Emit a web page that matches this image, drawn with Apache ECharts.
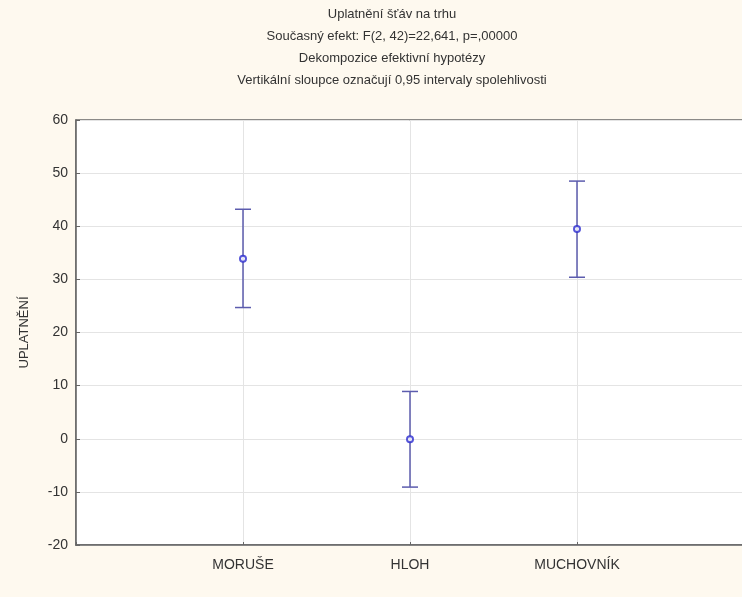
<!DOCTYPE html>
<html><head><meta charset="utf-8">
<script src="https://cdn.jsdelivr.net/npm/echarts@6/dist/echarts.min.js"></script>
<style>html,body{margin:0;padding:0;background:#fef9ef;}#c{width:742px;height:597px;}</style>
</head><body><div id="c"></div>
<script>
const categories = ['MORUŠE', 'HLOH', 'MUCHOVNÍK'];
const means = [33.9, -0.1, 39.5];
const lowerCI = [24.7, -9.1, 30.4];
const upperCI = [43.2, 8.9, 48.5];
const yTicks = [-20, -10, 0, 10, 20, 30, 40, 50, 60];
const titleLines = [
  'Uplatnění šťáv na trhu',
  'Současný efekt: F(2, 42)=22,641, p=,00000',
  'Dekompozice efektivní hypotézy',
  'Vertikální sloupce označují 0,95 intervaly spolehlivosti'
];
const yName = 'UPLATNĚNÍ';

const positions = categories.map((c, i) => i + 1);
const barData = positions.map((p, i) => [p, lowerCI[i], upperCI[i]]);
const meanData = positions.map((p, i) => [p, means[i]]);

const chart = echarts.init(document.getElementById('c'), null, {renderer: 'canvas'});
const font = '"Liberation Sans", Arial, sans-serif';
chart.setOption({
  backgroundColor: '#fef9ef',
  animation: false,
  title: titleLines.map((t, i) => ({
    text: t, left: 387, top: 3 + i * 22, textAlign: 'center',
    textStyle: {fontFamily: font, fontSize: 13, fontWeight: 'normal', color: '#333'}
  })),
  grid: {left: 76, top: 120, width: 668, height: 425, outerBoundsMode: 'none', containLabel: false,
         show: true, backgroundColor: '#ffffff', borderColor: '#666', borderWidth: 1.5},
  xAxis: {
    type: 'value', min: 0, max: 4, interval: 1,
    axisLine: {show: true, onZero: false, lineStyle: {color: '#666', width: 1.5}},
    axisTick: {show: true, inside: true, length: 3, lineStyle: {color: '#666'}},
    axisLabel: {
      fontFamily: font, fontSize: 14, color: '#333', margin: 13,
      formatter: v => (v >= 1 && v <= categories.length) ? categories[v - 1] : ''
    },
    splitLine: {show: true, lineStyle: {color: '#e4e4e4', width: 1}}
  },
  yAxis: {
    type: 'value', min: yTicks[0], max: yTicks[yTicks.length - 1], interval: 10,
    name: yName, nameLocation: 'middle', nameGap: 45, nameRotate: 90,
    nameTextStyle: {fontFamily: font, fontSize: 13, color: '#333'},
    axisLine: {show: true, onZero: false, lineStyle: {color: '#666', width: 1.5}},
    axisTick: {show: true, inside: true, length: 4, lineStyle: {color: '#666'}},
    axisLabel: {fontFamily: font, fontSize: 14, color: '#333', margin: 8},
    splitLine: {show: true, lineStyle: {color: '#e4e4e4', width: 1}}
  },
  series: [
    {
      type: 'custom',
      data: barData,
      renderItem: function (params, api) {
        const x = api.value(0);
        const lo = api.coord([x, api.value(1)]);
        const hi = api.coord([x, api.value(2)]);
        const hw = 8;
        const style = {stroke: '#5c5cae', lineWidth: 1.5, fill: null};
        return {
          type: 'group',
          children: [
            {type: 'line', shape: {x1: lo[0], y1: lo[1], x2: hi[0], y2: hi[1]}, style: style},
            {type: 'line', shape: {x1: lo[0] - hw, y1: lo[1], x2: lo[0] + hw, y2: lo[1]}, style: style},
            {type: 'line', shape: {x1: hi[0] - hw, y1: hi[1], x2: hi[0] + hw, y2: hi[1]}, style: style}
          ]
        };
      },
      z: 2
    },
    {
      type: 'scatter',
      data: meanData,
      symbol: 'circle',
      symbolSize: 6,
      itemStyle: {color: '#ffffff', borderColor: '#2a2ad0', borderWidth: 2},
      z: 3
    }
  ]
});
</script>
</body></html>
